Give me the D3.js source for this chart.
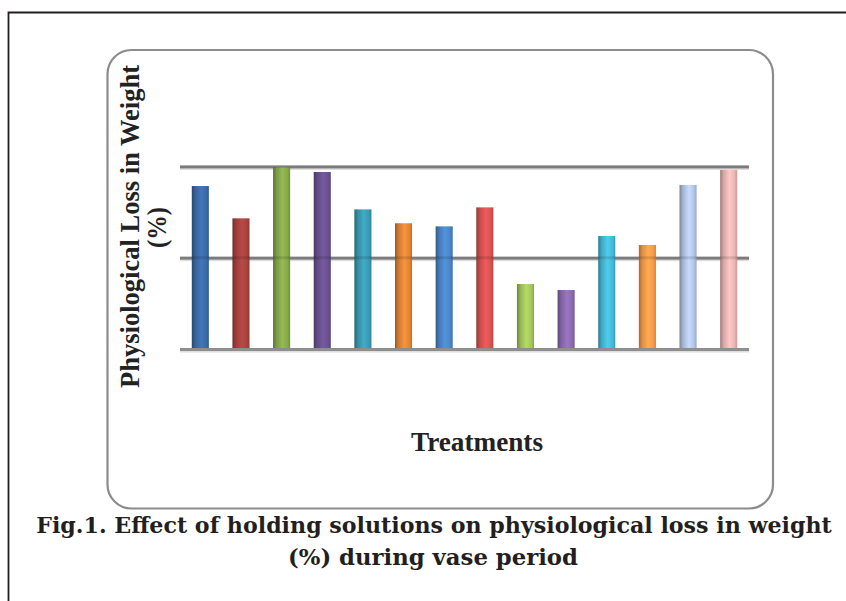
<!DOCTYPE html>
<html>
<head>
<meta charset="utf-8">
<script src="https://cdn.jsdelivr.net/npm/d3@7"></script>
<style>
  body { margin: 0; background: #fff; }
  svg { display: block; }
</style>
</head>
<body>
<div id="chart"></div>
<script>
// Values (no axis labels in the original, so the scale is arbitrary)
const treatments = ["T1", "T2", "T3", "T4", "T5", "T6", "T7", "T8", "T9", "T10", "T11", "T12", "T13", "T14"];
const plw = [8.93, 7.16, 9.96, 9.70, 7.65, 6.89, 6.72, 7.76, 3.56, 3.23, 6.19, 5.70, 8.99, 9.81];
const yTicks = [0, 5, 10];
const barColors = ["#3b6ba6", "#a8423f", "#86a84a", "#6a5190", "#3a9ab3", "#e08535",
                   "#4a85c7", "#d65352", "#a3c65a", "#8a6ab0", "#45b8d6", "#f89a48",
                   "#b3c5e5", "#eab4b3"];

const W = 846, H = 601;
const margin = { top: 166.5, left: 180, right: 97, bottom: 252 },
  width = W - margin.left - margin.right,
  height = H - margin.top - margin.bottom;

const svg = d3.select("#chart").append("svg")
  .attr("width", W)
  .attr("height", H);

// page frame (only top and left edges visible)
svg.append("path")
  .attr("d", "M8.5,601 V12.5 H846")
  .attr("fill", "none")
  .attr("stroke", "#231f20")
  .attr("stroke-width", 1.8);

// rounded chart area
svg.append("rect")
  .attr("x", 107.5).attr("y", 50)
  .attr("width", 665.5).attr("height", 458.5)
  .attr("rx", 24).attr("ry", 24)
  .attr("fill", "#fff")
  .attr("stroke", "#8c8c8c")
  .attr("stroke-width", 2.2);

// cylinder-ish gradients, one per bar colour
const defs = svg.append("defs");
barColors.forEach((c, i) => {
  const g = defs.append("linearGradient")
    .attr("id", "bar" + i)
    .attr("x1", "0%").attr("x2", "100%")
    .attr("y1", "0%").attr("y2", "0%");
  const base = d3.color(c);
  g.append("stop").attr("offset", "0%").attr("stop-color", base.darker(1.1));
  g.append("stop").attr("offset", "20%").attr("stop-color", base.darker(0.25));
  g.append("stop").attr("offset", "55%").attr("stop-color", base.brighter(0.3));
  g.append("stop").attr("offset", "85%").attr("stop-color", base);
  g.append("stop").attr("offset", "100%").attr("stop-color", base.darker(0.5));
});

const plot = svg.append("g")
  .attr("transform", "translate(" + margin.left + "," + margin.top + ")");

const xScale = d3.scaleBand()
  .domain(treatments)
  .range([0, width])
  .paddingInner(0.58)
  .paddingOuter(0.29);

const yScale = d3.scaleLinear()
  .domain([0, 10])
  .range([height, 0]);

// faint shadow under each gridline
plot.selectAll(".grid-shadow")
  .data(yTicks)
  .enter().append("line")
  .attr("x1", 0).attr("x2", width)
  .attr("y1", (d) => yScale(d) + 2.5)
  .attr("y2", (d) => yScale(d) + 2.5)
  .attr("stroke", "#dedede")
  .attr("stroke-width", 2);

// gridlines via the axis generator, no labels
const grid = plot.append("g")
  .call(d3.axisLeft(yScale).tickValues(yTicks).tickSize(-width).tickFormat(""));
grid.select(".domain").remove();
grid.selectAll(".tick line")
  .attr("stroke", "#8e8e8e")
  .attr("stroke-width", 3);

// bars
plot.selectAll(".bar")
  .data(plw)
  .enter().append("rect")
  .attr("class", "bar")
  .attr("x", (d, i) => xScale(treatments[i]))
  .attr("y", (d) => yScale(d))
  .attr("width", xScale.bandwidth())
  .attr("height", (d) => yScale(0) - yScale(d) - 1)
  .attr("fill", (d, i) => "url(#bar" + i + ")");

// gridline showing faintly through the bars
plot.selectAll(".grid-over")
  .data(yTicks.filter((t) => t > 0))
  .enter().append("line")
  .attr("x1", 0).attr("x2", width)
  .attr("y1", (d) => yScale(d))
  .attr("y2", (d) => yScale(d))
  .attr("stroke", "#000")
  .attr("stroke-opacity", 0.12)
  .attr("stroke-width", 3);

// fit a text element to a target width by adjusting font size
function fit(sel, target) {
  const fs = parseFloat(sel.attr("font-size"));
  const w = sel.node().getComputedTextLength();
  sel.attr("font-size", (fs * target / w).toFixed(2));
}

// squeeze a text element to a target width, keeping its font size
function squeeze(sel, target) {
  sel.attr("textLength", target).attr("lengthAdjust", "spacingAndGlyphs");
}

const serif = "'Liberation Serif', 'Times New Roman', serif";

// y axis title (two lines, rotated)
const yTitle = svg.append("g")
  .attr("transform", "translate(139,226.5) rotate(-90)");
yTitle.append("text")
  .attr("x", 0).attr("y", 0)
  .attr("text-anchor", "middle")
  .attr("font-family", serif)
  .attr("font-weight", "bold")
  .attr("font-size", 27)
  .attr("fill", "#222")
  .text("Physiological Loss in Weight")
  .call(squeeze, 323);
yTitle.append("text")
  .attr("x", -1).attr("y", 27)
  .attr("text-anchor", "middle")
  .attr("font-family", serif)
  .attr("font-weight", "bold")
  .attr("font-size", 27)
  .attr("fill", "#222")
  .text("(%)")
  .call(squeeze, 41);

// x axis title
svg.append("text")
  .attr("x", 477).attr("y", 451)
  .attr("text-anchor", "middle")
  .attr("font-family", serif)
  .attr("font-weight", "bold")
  .attr("font-size", 27)
  .attr("fill", "#222")
  .text("Treatments")
  .call(squeeze, 132);

// figure caption
const capFont = "'DejaVu Serif', serif";
svg.append("text")
  .attr("x", 434).attr("y", 533)
  .attr("text-anchor", "middle")
  .attr("font-family", capFont)
  .attr("font-weight", "bold")
  .attr("font-size", 20)
  .attr("fill", "#231f20")
  .text("Fig.1. Effect of holding solutions on physiological loss in weight")
  .call(fit, 796);
svg.append("text")
  .attr("x", 433).attr("y", 565)
  .attr("text-anchor", "middle")
  .attr("font-family", capFont)
  .attr("font-weight", "bold")
  .attr("font-size", 20)
  .attr("fill", "#231f20")
  .text("(%) during vase period")
  .call(fit, 290);
</script>
</body>
</html>
